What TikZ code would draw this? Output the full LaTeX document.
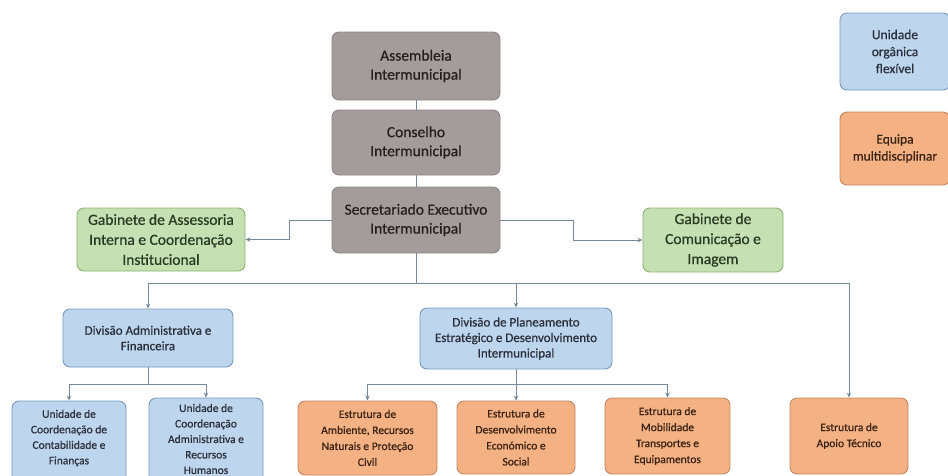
\documentclass[tikz,border=0pt]{standalone}
\usepackage{fontspec}
\setmainfont{Carlito}[FakeBold=0.6]
\usetikzlibrary{arrows.meta}
\definecolor{greyfill}{RGB}{163,156,155}
\definecolor{greyline}{RGB}{140,134,134}
\definecolor{greytext}{RGB}{38,30,30}
\definecolor{greenfill}{RGB}{197,224,178}
\definecolor{greenline}{RGB}{140,178,112}
\definecolor{greentext}{RGB}{40,58,34}
\definecolor{bluefill}{RGB}{189,214,238}
\definecolor{blueline}{RGB}{120,152,188}
\definecolor{bluetext}{RGB}{42,46,58}
\definecolor{orangefill}{RGB}{243,177,132}
\definecolor{orangeline}{RGB}{196,134,96}
\definecolor{orangetext}{RGB}{58,34,18}
\definecolor{linkcol}{RGB}{118,136,156}
\newcommand\fk{\addfontfeature{FakeBold=0.6}}
\begin{document}
\begin{tikzpicture}[x=1pt,y=-1pt,
    box/.style={draw,rounded corners=7pt,line width=0.9pt,align=center,inner sep=2pt},
    grey/.style={box,fill=greyfill,draw=greyline,text=greytext,
      minimum width=168pt,font=\fontsize{15.5}{19}\selectfont\fk},
    green/.style={box,fill=greenfill,draw=greenline,text=greentext,
      font=\fontsize{15.5}{20}\selectfont\fk},
    bluediv/.style={box,fill=bluefill,draw=blueline,text=bluetext,
      font=\fontsize{13}{15.5}\selectfont\fk},
    bluebot/.style={box,fill=bluefill,draw=blueline},
    orange/.style={box,fill=orangefill,draw=orangeline,text=orangetext,
      font=\fontsize{11.5}{16}\selectfont\fk},
    legend/.style={box,minimum width=110pt,font=\fontsize{13.5}{17}\selectfont\fk},
    bottxt/.style={align=center,text=bluetext,font=\fontsize{11.5}{15.5}\selectfont\fk},
    link/.style={draw=linkcol,line width=0.9pt},
    arr/.style={link,-{Stealth[length=5pt,width=4.5pt]}}]
  \useasboundingbox (0,0) rectangle (948,475);
  \clip (0,0) rectangle (948,475);
  \path
    (416,66) node[grey,minimum height=68pt] (asm) {Assembleia\\Intermunicipal}
    (416,142.5) node[grey,minimum height=65pt] (cons) {Conselho\\Intermunicipal}
    (416,220) node[grey,minimum height=66pt] (sec) {Secretariado Executivo\\Intermunicipal}
    (161,239.5) node[green,minimum width=168pt,minimum height=63pt] (gabA)
      {Gabinete de Assessoria\\Interna e Coordenação\\Institucional}
    (713,240) node[green,minimum width=140pt,minimum height=64pt] (gabC)
      {Gabinete de\\Comunicação e\\Imagem}
    (148,338) node[bluediv,minimum width=170pt,minimum height=58pt] (divA)
      {Divisão Administrativa e\\Financeira}
    (516,338.5) node[bluediv,minimum width=192pt,minimum height=61pt] (divP)
      {Divisão de Planeamento\\Estratégico e Desenvolvimento\\Intermunicipal}
    (69,443) node[bluebot,minimum width=114pt,minimum height=84pt] (uCont) {}
    (206,442) node[bluebot,minimum width=114pt,minimum height=88pt] (uRH) {}
    (367.5,438) node[orange,minimum width=139pt,minimum height=74pt] (eAmb)
      {Estrutura de\\Ambiente, Recursos\\Naturais e Proteção\\Civil}
    (516,437.5) node[orange,minimum width=118pt,minimum height=73pt] (eDes)
      {Estrutura de\\Desenvolvimento\\Económico e\\Social}
    (667.5,436) node[orange,minimum width=125pt,minimum height=76pt] (eMob)
      {Estrutura de\\Mobilidade\\Transportes e\\Equipamentos}
    (849,436) node[orange,minimum width=118pt,minimum height=76pt] (eApo)
      {Estrutura de\\Apoio Técnico}
    (895,51.5) node[legend,fill=bluefill,draw=blueline,text=bluetext,minimum height=77pt] (legU)
      {Unidade\\orgânica\\flexível}
    (895,148.5) node[legend,fill=orangefill,draw=orangeline,text=orangetext,minimum height=73pt] (legE)
      {Equipa\\multidisciplinar};
  \path
    (69,438) node[bottxt] (uContTxt) {Unidade de\\Coordenação de\\Contabilidade e\\Finanças}
    (206,439) node[bottxt] (uRHTxt) {Unidade de\\Coordenação\\Administrativa e\\Recursos\\Humanos};
  \coordinate (bus) at (416,283);
  \coordinate (busA) at (148,384);
  \coordinate (busP) at (516,384);
  \begin{scope}
    \draw[link] (asm) to (cons);
    \draw[link] (cons) to (sec);
    \draw[arr] (sec.west) -- ++(-42,0) |- (gabA.east);
    \draw[arr] (sec.east) -- ++(73,0) |- (gabC.west);
    \draw[link] (sec) to (bus);
    \draw[arr] (bus) -| (divA.north);
    \draw[arr] (bus) -| (divP.north);
    \draw[arr] (bus) -| (eApo.north);
    \draw[link] (divA) to (busA);
    \draw[arr] (busA) -| (uCont.north);
    \draw[arr] (busA) -| (uRH.north);
    \draw[link] (divP) to (busP);
    \draw[arr] (busP) -| (eAmb.north);
    \draw[arr] (busP) -- (eDes.north);
    \draw[arr] (busP) -| (eMob.north);
  \end{scope}
\end{tikzpicture}
\end{document}
